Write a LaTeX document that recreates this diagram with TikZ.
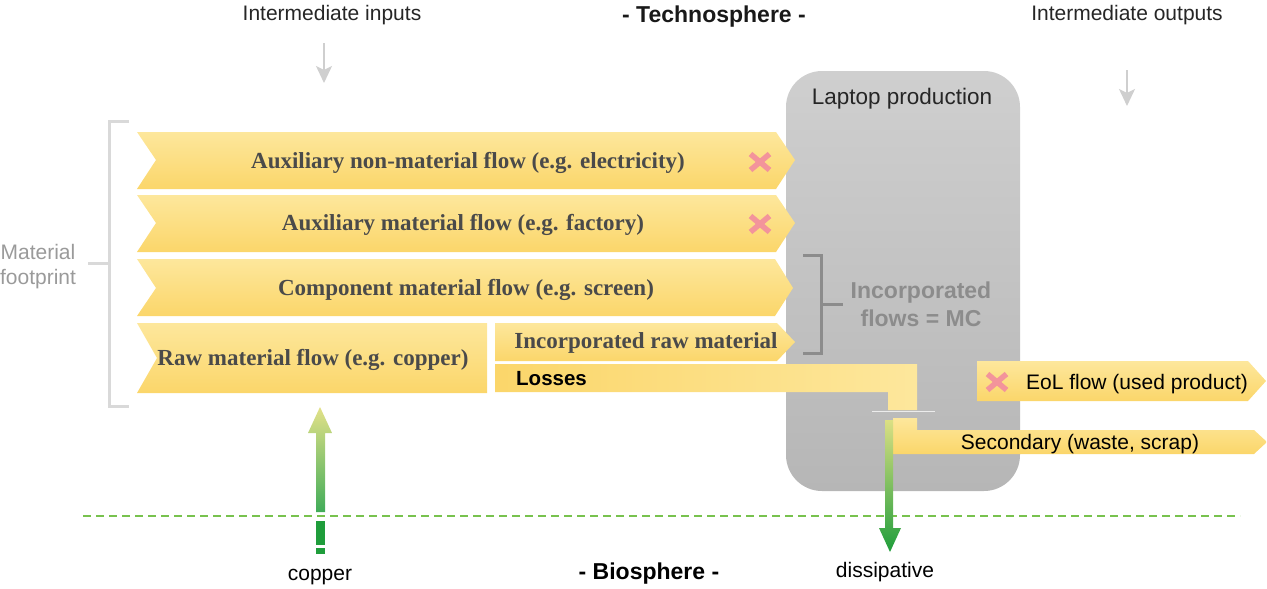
\documentclass[tikz,border=0pt]{standalone}
\usepackage{fontspec}
\usetikzlibrary{arrows.meta}
\setmainfont{Liberation Serif}
\setsansfont{Liberation Sans}
\definecolor{flowtop}{HTML}{FDE79C}
\definecolor{flowbot}{HTML}{FBD66A}
\definecolor{txtgray}{HTML}{4A4A4A}
\definecolor{xpink}{HTML}{F3949B}
\definecolor{boxtop}{HTML}{CFCFCF}
\definecolor{boxbot}{HTML}{B6B6B6}
\definecolor{brgray}{HTML}{8C8C8C}
\definecolor{lbgray}{HTML}{D9D9D9}
\definecolor{lblgray}{HTML}{9A9A9A}
\definecolor{arrgray}{HTML}{CFCFCF}
\definecolor{dashgreen}{HTML}{78C24E}
\definecolor{darkgreen}{HTML}{1F9D3B}
\definecolor{lightgreen}{HTML}{DCE084}
\begin{document}
\begin{tikzpicture}[x=1pt,y=-1pt,
  flow/.style={top color=flowtop, bottom color=flowbot, draw=none},
  serl/.style={font=\fontsize{23}{27}\selectfont\bfseries\rmfamily, text=txtgray, inner sep=0pt},
  sanl/.style={font=\fontsize{21}{25}\selectfont\sffamily, inner sep=0pt},
  sanb/.style={font=\fontsize{23}{27}\selectfont\sffamily\bfseries, inner sep=0pt},
  xm/.pic={\draw[xpink,line width=5.5pt] (-9.5,-8)--(9.5,8) (-9.5,8)--(9.5,-8);},
  grayarr/.style={draw=arrgray, line width=1.5pt, -{Stealth[length=17pt,width=16pt,inset=4pt]}},
]
\useasboundingbox (0,0) rectangle (1267,589);

% process box
\path[top color=boxtop, bottom color=boxbot, rounded corners=36pt] (786,71) rectangle (1020,491);
\node[sanl, font=\fontsize{22.5}{26}\selectfont\sffamily, text=black!85] (laptop) at (902,99) {Laptop production};

% top labels
\node[sanl, text=black!85] (ininp) at (332,15) {Intermediate inputs};
\node[sanb, text=black!90] (techno) at (714,17) {- Technosphere -};
\node[sanl, text=black!85] (inout) at (1127,15) {Intermediate outputs};
\coordinate (ia1) at (324,43); \coordinate (ia2) at (324,83);
\coordinate (oa1) at (1127,70); \coordinate (oa2) at (1127,106);
\draw[grayarr] (ia1) -- (ia2);
\draw[grayarr] (oa1) -- (oa2);

% row 1
\path[flow] (137,132) -- (776,132) -- (795,160) -- (776,189) -- (137,189) -- (156,160) -- cycle;
\node[serl] (aux1) at (468,163) {Auxiliary non-material flow (e.g. electricity)};
\pic at (760,162) {xm};
% row 2
\path[flow] (137,195) -- (776,195) -- (795,223) -- (776,252) -- (137,252) -- (156,223) -- cycle;
\node[serl] (aux2) at (463,225) {Auxiliary material flow (e.g. factory)};
\pic at (760,224) {xm};
% row 3
\path[flow] (137,259) -- (775,259) -- (793,288) -- (775,316) -- (137,316) -- (156,288) -- cycle;
\node[serl] (comp) at (466,290) {Component material flow (e.g. screen)};
% row 4 raw
\path[flow] (137,323) -- (487,323) -- (487,393) -- (137,393) -- (157,358) -- cycle;
\node[serl] (raw) at (313,360) {Raw material flow (e.g. copper)};
% incorporated raw material
\path[flow] (495,323) -- (777,323) -- (795,342) -- (777,361) -- (495,361) -- cycle;
\node[serl] (incraw) at (646,343) {Incorporated raw material};
% losses
\path[left color=flowbot, right color=flowtop] (495,364) -- (917,364) -- (917,410) -- (888,410) -- (888,392) -- (495,392) -- cycle;
\node[sanl, font=\fontsize{20.5}{24}\selectfont\sffamily\bfseries, text=black, anchor=west] (losses) at (516,379) {Losses};
\draw[white!85!gray, line width=0.8pt] (872,411) -- (935,411);
% secondary
\path[flow] (893,418) -- (917,418) -- (917,430) -- (1254,430) -- (1267,442) -- (1254,454) -- (893,454) -- cycle;
\node[sanl, text=black] (second) at (1080,444) {Secondary (waste, scrap)};
% EoL
\path[flow] (977,361) -- (1248,361) -- (1266,381) -- (1248,401) -- (977,401) -- cycle;
\node[sanl, text=black] (eol) at (1137,384) {EoL flow (used product)};
\pic at (997,382) {xm};

% incorporated bracket
\draw[brgray, line width=3pt] (803,255) -- (821,255) -- (821,353) -- (803,353);
\draw[brgray, line width=3pt] (821,304) -- (843,304);
\node[sanb, text=brgray, align=center] (incfl) at (921,304) {Incorporated\\[1pt]flows = MC};

% material footprint bracket
\draw[lbgray, line width=3pt] (129,121) -- (109,121) -- (109,406) -- (129,406);
\draw[lbgray, line width=3pt] (88,263) -- (109,263);
\node[sanl, text=lblgray, align=center] (mf) at (38,267) {Material\\footprint};

% biosphere line
\coordinate (bl1) at (83,516); \coordinate (bl2) at (1240,516);
\draw[dashgreen, line width=1.6pt, dash pattern=on 8pt off 5pt] (bl1) -- (bl2);
\node[sanb, text=black] (bio) at (649,574) {- Biosphere -};

% copper arrow
\node[sanl, text=black] (copper) at (320,577) {copper};
\path[top color=lightgreen!80!flowtop, bottom color=darkgreen!85!white] (320,407) -- (332,433) -- (325,433) -- (325,512) -- (316,512) -- (316,433) -- (308,433) -- cycle;
\fill[darkgreen] (316,521) rectangle (325,545);
\fill[darkgreen] (316,548) rectangle (325,554);

% dissipative arrow
\node[sanl, text=black] (diss) at (885,572) {dissipative};
\path[top color=lightgreen, bottom color=darkgreen] (885,420) -- (893,420) -- (893,528) -- (901,528) -- (890,552) -- (879,528) -- (885,528) -- cycle;
\end{tikzpicture}
\end{document}
